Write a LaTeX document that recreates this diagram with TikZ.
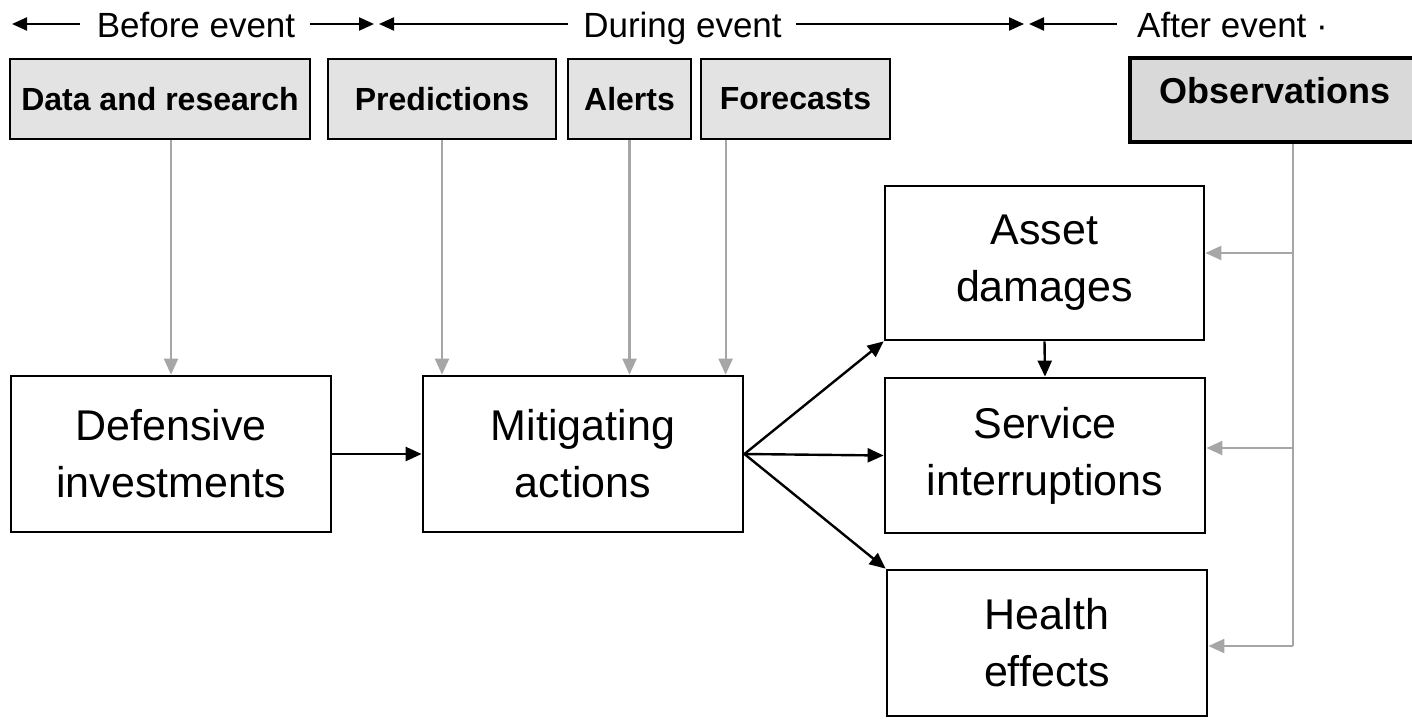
\documentclass[tikz,border=0pt]{standalone}
\usepackage{fontspec}
\setmainfont{Liberation Sans}
\usetikzlibrary{arrows.meta}
\definecolor{boxgray}{HTML}{E3E3E3}
\definecolor{obsgray}{HTML}{D9D9D9}
\definecolor{linegray}{HTML}{A6A6A6}
\begin{document}
\begin{tikzpicture}[x=1pt,y=-1pt,
  topbox/.style={draw, line width=2.8pt, fill=boxgray, inner sep=0, minimum height=80pt, font=\fontsize{32}{38}\selectfont\bfseries},
  mainbox/.style={draw, line width=2.8pt, fill=white, inner sep=0, minimum width=320pt, align=center, font=\fontsize{43}{57}\selectfont},
  graya/.style={draw=linegray, line width=2.2pt, -{Triangle[length=16pt,width=14pt,fill=linegray]}},
  grayl/.style={draw=linegray, line width=2.2pt},
  blacka/.style={line width=2.4pt, -{Triangle[length=16pt,width=14pt]}},
  tltext/.style={inner sep=0, font=\fontsize{35}{42}\selectfont, anchor=base},
  tla/.style={line width=2.2pt, -{Triangle[length=15pt,width=13pt]}}
]
\useasboundingbox (0,0) rectangle (1412,720);

% timeline
\node[tltext] (before) at (196,37) {Before event};
\node[tltext] (during) at (682.5,37) {During event};
\node[tltext, anchor=base west] (after) at (1137,37) {After event ·};
\coordinate (t0) at (12,24);
\coordinate (t1) at (374,24);
\coordinate (t1b) at (379,24);
\coordinate (t2) at (1024,24);
\coordinate (t2b) at (1029,24);
\draw[tla, shorten <=17pt] (before.west |- t0) -- (t0);
\draw[tla, shorten <=15pt] (before.east |- t0) -- (t1);
\draw[tla, shorten <=15pt] (during.west |- t0) -- (t1b);
\draw[tla, shorten <=14pt] (during.east |- t0) -- (t2);
\draw[tla, shorten <=20pt] (after.west |- t0) -- (t2b);

% top boxes
\node[topbox, minimum width=300pt] (data) at (160,99) {Data and research};
\node[topbox, minimum width=228pt] (pred) at (442,99) {Predictions};
\node[topbox, minimum width=123pt] (alerts) at (629.5,99) {Alerts};
\node[topbox, minimum width=189pt] (fore) at (795.5,99) {Forecasts};
\node[topbox, line width=4pt, fill=obsgray, minimum width=290pt, minimum height=84pt,
      font=\fontsize{36}{42}\selectfont\bfseries, text height=26pt, text depth=20pt] (obs) at (1275,100) {Observations};

% main boxes
\node[mainbox, minimum height=156pt] (def) at (171,454) {Defensive\\investments};
\node[mainbox, minimum height=156pt] (mit) at (583,454) {Mitigating\\actions};
\node[mainbox, minimum width=319pt, minimum height=154pt] (asset) at (1044.5,263) {Asset\\damages};
\node[mainbox, minimum height=155pt] (serv) at (1045,455.5) {Service\\interruptions};
\node[mainbox, minimum height=146pt] (health) at (1047,643) {Health\\effects};

% gray connectors from top boxes
\coordinate (f1) at ([xshift=26pt]fore.south west);
\draw[graya] (def.north |- data.south) -- (def.north);
\draw[graya] (pred.south) -- (pred.south |- mit.north);
\draw[graya] (alerts.south) -- (alerts.south |- mit.north);
\draw[graya] (f1) -- (f1 |- mit.north);

% observations feedback
\coordinate (o1) at ([xshift=18pt]obs.south);
\coordinate (ja) at (1293,253);
\coordinate (js) at (1293,448);
\coordinate (jh) at (1293,646);
\draw[grayl] (o1) -- (jh);
\draw[graya] (ja) -- (ja -| asset.east);
\draw[graya] (js) -- (js -| serv.east);
\draw[graya] (jh) -- (jh -| health.east);

% black connectors
\draw[blacka] (def.east) -- (mit.west);
\draw[blacka] (mit.east) -- (asset.south west);
\draw[blacka] (mit.east) -- (serv.west);
\draw[blacka] (mit.east) -- (health.north west);
\draw[blacka] (asset.south) -- (serv.north);
\end{tikzpicture}
\end{document}
